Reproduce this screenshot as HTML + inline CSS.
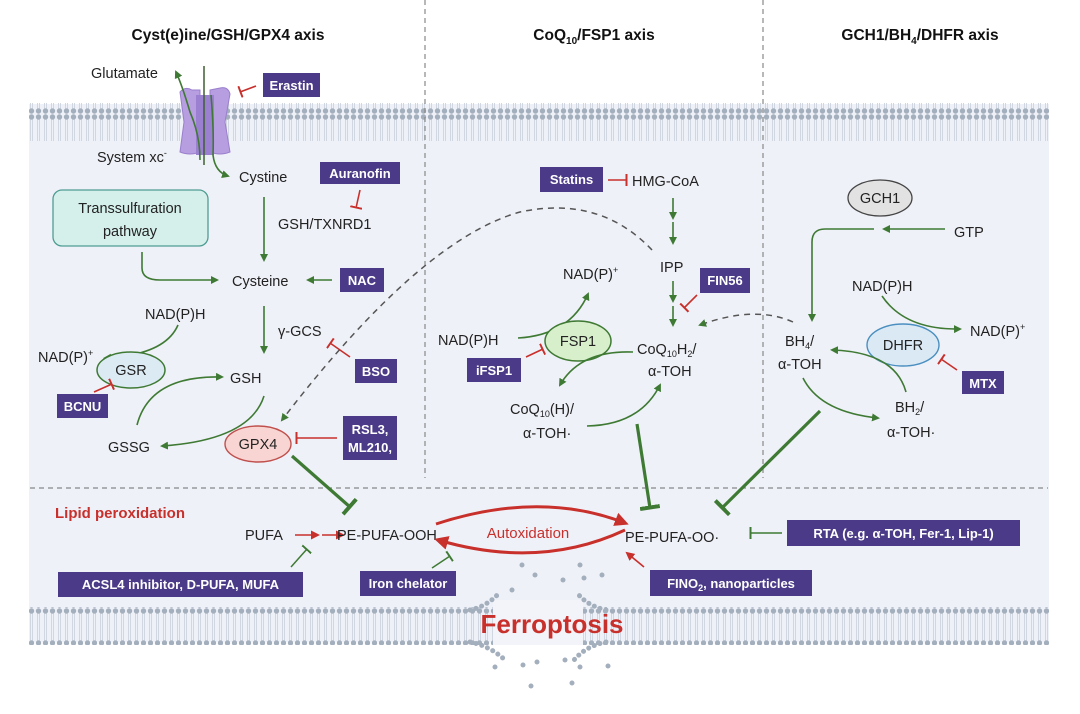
<!DOCTYPE html>
<html><head><meta charset="utf-8"><style>
html,body{margin:0;padding:0;background:#fff}
svg{display:block}
text{font-family:"Liberation Sans",sans-serif}
.t{font-size:14.5px;fill:#222}
.b{font-size:13px;fill:#fff;font-weight:bold}
.h{font-size:15.5px;font-weight:bold;fill:#111}
</style></head><body>
<svg width="1080" height="714" viewBox="0 0 1080 714" xmlns="http://www.w3.org/2000/svg">
<defs>
<pattern id="mem" x="0" y="0" width="7" height="38" patternUnits="userSpaceOnUse">
<line x1="2.5" y1="3" x2="2.5" y2="35" stroke="#d0d7e0" stroke-width="1"/>
<line x1="4.5" y1="3" x2="4.5" y2="35" stroke="#d0d7e0" stroke-width="1"/>
<circle cx="3.5" cy="3" r="2.7" fill="#a4afbd"/>
<circle cx="3.5" cy="35" r="2.7" fill="#a4afbd"/>
</pattern>
<marker id="ag" markerWidth="8" markerHeight="8" refX="6" refY="4" orient="auto" markerUnits="userSpaceOnUse"><path d="M0,0 L8,4 L0,8 z" fill="#3f7a34"/></marker>
<marker id="ar" markerWidth="9" markerHeight="9" refX="7" refY="4.5" orient="auto" markerUnits="userSpaceOnUse"><path d="M0,0 L9,4.5 L0,9 z" fill="#c8302c"/></marker>
<marker id="arb" markerWidth="14" markerHeight="14" refX="10" refY="7" orient="auto" markerUnits="userSpaceOnUse"><path d="M0,0 L14,7 L0,14 z" fill="#c8302c"/></marker>
<marker id="tgs" markerWidth="3" markerHeight="12" refX="1.5" refY="6" orient="auto" markerUnits="userSpaceOnUse"><rect x="0" y="0" width="2" height="12" fill="#3f7a34"/></marker>
<marker id="tr" markerWidth="3" markerHeight="12" refX="1.5" refY="6" orient="auto" markerUnits="userSpaceOnUse"><rect x="0" y="0" width="2" height="12" fill="#c8302c"/></marker>
<marker id="tgb" markerWidth="5" markerHeight="20" refX="2.5" refY="10" orient="auto" markerUnits="userSpaceOnUse"><rect x="0" y="0" width="4" height="20" fill="#3f7a34"/></marker>
</defs>

<rect x="29" y="104" width="1020" height="538" fill="#eff1f8"/>
<rect x="29" y="103" width="1020" height="38" fill="url(#mem)"/>
<rect x="29" y="607" width="1020" height="38" fill="url(#mem)"/>
<!-- ferroptosis gap -->
<rect x="493" y="600" width="90" height="50" fill="#f3f4f9"/>
<rect x="470" y="645" width="140" height="50" fill="#ffffff"/>
<g fill="none" stroke="#a4afbd" stroke-width="5" stroke-dasharray="0.1,6" stroke-linecap="round">
<path d="M470,610 Q488,606 500,592"/>
<path d="M606,610 Q588,606 578,594"/>
<path d="M470,642 Q490,646 505,660"/>
<path d="M606,642 Q586,646 574,660"/>
</g>
<g fill="#a4afbd">
<circle cx="512" cy="590" r="2.5"/><circle cx="535" cy="575" r="2.5"/><circle cx="563" cy="580" r="2.5"/><circle cx="584" cy="578" r="2.5"/><circle cx="602" cy="575" r="2.5"/><circle cx="522" cy="565" r="2.5"/><circle cx="580" cy="565" r="2.5"/>
<circle cx="495" cy="667" r="2.5"/><circle cx="523" cy="665" r="2.5"/><circle cx="537" cy="662" r="2.5"/><circle cx="565" cy="660" r="2.5"/><circle cx="580" cy="667" r="2.5"/><circle cx="608" cy="666" r="2.5"/><circle cx="531" cy="686" r="2.5"/><circle cx="572" cy="683" r="2.5"/>
</g>

<g stroke="#888" stroke-width="1.2" stroke-dasharray="5,4" fill="none">
<line x1="425" y1="0" x2="425" y2="478"/>
<line x1="763" y1="0" x2="763" y2="478"/>
<line x1="30" y1="488" x2="1048" y2="488"/>
</g>

<text class="h" x="228" y="40" text-anchor="middle">Cyst(e)ine/GSH/GPX4 axis</text>
<text class="h" x="594" y="40" text-anchor="middle">CoQ<tspan font-size="10" dy="4">10</tspan><tspan dy="-4">/FSP1 axis</tspan></text>
<text class="h" x="920" y="40" text-anchor="middle">GCH1/BH<tspan font-size="10" dy="4">4</tspan><tspan dy="-4">/DHFR axis</tspan></text>

<path d="M180,92 Q185,86 192,90 L200,90 L200,152 Q190,156 180,152 L184,122 z" fill="#b79ee0" stroke="#9a7fcc"/>
<path d="M210,90 L220,88 Q228,86 230,94 L225,122 L230,152 Q220,156 210,152 z" fill="#b79ee0" stroke="#9a7fcc"/>
<rect x="196" y="95" width="18" height="60" fill="#9b7fd0"/>
<line x1="204" y1="66" x2="204" y2="165" stroke="#3f5f33" stroke-width="1.5"/>
<path d="M200,160 Q200,135 190,112 Q182,85 176,72" stroke="#3f7a34" stroke-width="1.6" fill="none" marker-end="url(#ag)"/>
<path d="M211,95 Q214,130 213,155 Q215,172 228,176" stroke="#3f7a34" stroke-width="1.6" fill="none" marker-end="url(#ag)"/>
<text class="t" x="91" y="78">Glutamate</text>
<text class="t" x="97" y="162">System xc<tspan font-size="9" dy="-6">-</tspan></text>
<path d="M256,86 L240,92" stroke="#c8302c" stroke-width="1.6" marker-end="url(#tr)"/>
<rect x="263" y="73" width="57" height="24" fill="#4b3a87"/><text class="b" x="291.5" y="90" text-anchor="middle">Erastin</text>

<text class="t" x="239" y="182">Cystine</text>
<rect x="320" y="162" width="80" height="22" fill="#4b3a87"/><text class="b" x="360" y="178" text-anchor="middle">Auranofin</text>
<path d="M360,190 L356,208" stroke="#c8302c" stroke-width="1.6" marker-end="url(#tr)"/>
<text class="t" x="278" y="229">GSH/TXNRD1</text>
<line x1="264" y1="197" x2="264" y2="260" stroke="#3f7a34" stroke-width="1.6" marker-end="url(#ag)"/>
<rect x="53" y="190" width="155" height="56" rx="9" fill="#d5efeb" stroke="#4f9d93" stroke-width="1.3"/>
<text class="t" x="130" y="213" text-anchor="middle">Transsulfuration</text>
<text class="t" x="130" y="236" text-anchor="middle">pathway</text>
<path d="M142,252 L142,268 Q142,280 160,280 L217,280" stroke="#3f7a34" stroke-width="1.6" fill="none" marker-end="url(#ag)"/>
<text class="t" x="232" y="286">Cysteine</text>
<line x1="332" y1="280" x2="308" y2="280" stroke="#3f7a34" stroke-width="1.6" marker-end="url(#ag)"/>
<rect x="340" y="268" width="44" height="24" fill="#4b3a87"/><text class="b" x="362" y="285" text-anchor="middle">NAC</text>
<line x1="264" y1="306" x2="264" y2="352" stroke="#3f7a34" stroke-width="1.6" marker-end="url(#ag)"/>
<text class="t" x="145" y="319">NAD(P)H</text>
<text class="t" x="278" y="336">γ-GCS</text>
<path d="M350,357 L330,343" stroke="#c8302c" stroke-width="1.6" marker-end="url(#tr)"/>
<rect x="355" y="359" width="42" height="24" fill="#4b3a87"/><text class="b" x="376" y="376" text-anchor="middle">BSO</text>
<text class="t" x="38" y="362">NAD(P)<tspan font-size="9" dy="-6">+</tspan></text>
<path d="M178,325 Q165,355 105,358" stroke="#3f7a34" stroke-width="1.6" fill="none" marker-end="url(#ag)"/>
<ellipse cx="131" cy="370" rx="34" ry="18" fill="#dceaf4" stroke="#3f7a34" stroke-width="1.5"/>
<text class="t" x="131" y="375" text-anchor="middle">GSR</text>
<path d="M137,425 Q150,375 222,377" stroke="#3f7a34" stroke-width="1.6" fill="none" marker-end="url(#ag)"/>
<text class="t" x="230" y="383">GSH</text>
<path d="M94,392 L112,384" stroke="#c8302c" stroke-width="1.6" marker-end="url(#tr)"/>
<rect x="57" y="394" width="51" height="24" fill="#4b3a87"/><text class="b" x="82.5" y="411" text-anchor="middle">BCNU</text>
<text class="t" x="108" y="452">GSSG</text>
<path d="M264,396 Q250,440 162,446" stroke="#3f7a34" stroke-width="1.6" fill="none" marker-end="url(#ag)"/>
<ellipse cx="258" cy="444" rx="33" ry="18" fill="#f8d5d2" stroke="#c0504d" stroke-width="1.4"/>
<text class="t" x="258" y="449" text-anchor="middle">GPX4</text>
<line x1="337" y1="438" x2="296" y2="438" stroke="#c8302c" stroke-width="1.6" marker-end="url(#tr)"/>
<rect x="343" y="416" width="54" height="44" fill="#4b3a87"/><text class="b" x="370" y="434" text-anchor="middle">RSL3,</text><text class="b" x="370" y="452" text-anchor="middle">ML210,</text>
<line x1="292" y1="456" x2="350" y2="507" stroke="#3f7a34" stroke-width="3.2" marker-end="url(#tgb)"/>

<path d="M652,250 Q600,195 520,212 Q420,240 282,420" stroke="#555" stroke-width="1.5" stroke-dasharray="6,5" fill="none" marker-end="url(#ag)"/>

<rect x="540" y="167" width="63" height="25" fill="#4b3a87"/><text class="b" x="571.5" y="184" text-anchor="middle">Statins</text>
<line x1="608" y1="180" x2="627" y2="180" stroke="#c8302c" stroke-width="1.6" marker-end="url(#tr)"/>
<text class="t" x="632" y="186">HMG-CoA</text>
<line x1="673" y1="198" x2="673" y2="218" stroke="#3f7a34" stroke-width="1.6" marker-end="url(#ag)"/>
<line x1="673" y1="222" x2="673" y2="243" stroke="#3f7a34" stroke-width="1.6" marker-end="url(#ag)"/>
<text class="t" x="660" y="272">IPP</text>
<rect x="700" y="268" width="50" height="25" fill="#4b3a87"/><text class="b" x="725" y="285" text-anchor="middle">FIN56</text>
<line x1="673" y1="281" x2="673" y2="301" stroke="#3f7a34" stroke-width="1.6" marker-end="url(#ag)"/>
<line x1="673" y1="306" x2="673" y2="325" stroke="#3f7a34" stroke-width="1.6" marker-end="url(#ag)"/>
<path d="M697,295 L684,308" stroke="#c8302c" stroke-width="1.6" marker-end="url(#tr)"/>
<text class="t" x="563" y="279">NAD(P)<tspan font-size="9" dy="-6">+</tspan></text>
<text class="t" x="438" y="345">NAD(P)H</text>
<path d="M518,338 Q570,335 588,294" stroke="#3f7a34" stroke-width="1.6" fill="none" marker-end="url(#ag)"/>
<ellipse cx="578" cy="341" rx="33" ry="20" fill="#d8efcb" stroke="#3f7a34" stroke-width="1.5"/>
<text class="t" x="578" y="346" text-anchor="middle">FSP1</text>
<path d="M633,352 Q580,350 560,385" stroke="#3f7a34" stroke-width="1.6" fill="none" marker-end="url(#ag)"/>
<path d="M526,357 L543,349" stroke="#c8302c" stroke-width="1.6" marker-end="url(#tr)"/>
<rect x="467" y="358" width="54" height="24" fill="#4b3a87"/><text class="b" x="494" y="375" text-anchor="middle">iFSP1</text>
<text class="t" x="637" y="354">CoQ<tspan font-size="9" dy="3">10</tspan><tspan dy="-3">H</tspan><tspan font-size="9" dy="3">2</tspan><tspan dy="-3">/</tspan></text>
<text class="t" x="648" y="376">α-TOH</text>
<text class="t" x="510" y="414">CoQ<tspan font-size="9" dy="3">10</tspan><tspan dy="-3">(H)/</tspan></text>
<text class="t" x="523" y="438">α-TOH·</text>
<path d="M587,426 Q640,425 660,385" stroke="#3f7a34" stroke-width="1.6" fill="none" marker-end="url(#ag)"/>
<line x1="637" y1="424" x2="650" y2="508" stroke="#3f7a34" stroke-width="3.2" marker-end="url(#tgb)"/>
<path d="M793,322 Q755,305 700,325" stroke="#555" stroke-width="1.5" stroke-dasharray="6,5" fill="none" marker-end="url(#ag)"/>

<ellipse cx="880" cy="198" rx="32" ry="18" fill="#e2e2e2" stroke="#444" stroke-width="1.3"/>
<text class="t" x="880" y="203" text-anchor="middle">GCH1</text>
<text class="t" x="954" y="237">GTP</text>
<line x1="945" y1="229" x2="884" y2="229" stroke="#3f7a34" stroke-width="1.6" marker-end="url(#ag)"/>
<path d="M874,229 L825,229 Q812,229 812,242 L812,320" stroke="#3f7a34" stroke-width="1.6" fill="none" marker-end="url(#ag)"/>
<text class="t" x="852" y="291">NAD(P)H</text>
<text class="t" x="970" y="336">NAD(P)<tspan font-size="9" dy="-6">+</tspan></text>
<path d="M882,296 Q905,330 960,329" stroke="#3f7a34" stroke-width="1.6" fill="none" marker-end="url(#ag)"/>
<ellipse cx="903" cy="345" rx="36" ry="21" fill="#dbe9f5" stroke="#4a8fc0" stroke-width="1.4"/>
<text class="t" x="903" y="350" text-anchor="middle">DHFR</text>
<path d="M906,392 Q895,352 832,350" stroke="#3f7a34" stroke-width="1.6" fill="none" marker-end="url(#ag)"/>
<text class="t" x="785" y="346">BH<tspan font-size="9" dy="3">4</tspan><tspan dy="-3">/</tspan></text>
<text class="t" x="778" y="369">α-TOH</text>
<path d="M957,370 L941,359" stroke="#c8302c" stroke-width="1.6" marker-end="url(#tr)"/>
<rect x="962" y="371" width="42" height="23" fill="#4b3a87"/><text class="b" x="983" y="388" text-anchor="middle">MTX</text>
<path d="M803,378 Q820,412 878,418" stroke="#3f7a34" stroke-width="1.6" fill="none" marker-end="url(#ag)"/>
<text class="t" x="895" y="412">BH<tspan font-size="9" dy="3">2</tspan><tspan dy="-3">/</tspan></text>
<text class="t" x="887" y="437">α-TOH·</text>
<line x1="820" y1="411" x2="722" y2="508" stroke="#3f7a34" stroke-width="3.2" marker-end="url(#tgb)"/>

<text x="55" y="518" font-size="15" font-weight="bold" fill="#c8302c">Lipid peroxidation</text>
<text class="t" x="245" y="540">PUFA</text>
<line x1="295" y1="535" x2="318" y2="535" stroke="#c8302c" stroke-width="1.6" marker-end="url(#ar)"/>
<line x1="322" y1="535" x2="343" y2="535" stroke="#c8302c" stroke-width="1.6" marker-end="url(#ar)"/>
<text class="t" x="337" y="540">PE-PUFA-OOH</text>
<path d="M291,567 L307,549" stroke="#3f7a34" stroke-width="1.5" marker-end="url(#tgs)"/>
<rect x="58" y="572" width="245" height="25" fill="#4b3a87"/><text class="b" x="180.5" y="589" text-anchor="middle">ACSL4 inhibitor, D-PUFA, MUFA</text>
<path d="M436,524 Q540,490 625,523" stroke="#c8302c" stroke-width="3" fill="none" marker-end="url(#arb)"/>
<path d="M625,530 Q540,570 438,540" stroke="#c8302c" stroke-width="3" fill="none" marker-end="url(#arb)"/>
<text x="528" y="538" font-size="15" fill="#c8302c" text-anchor="middle">Autoxidation</text>
<text class="t" x="625" y="542">PE-PUFA-OO·</text>
<line x1="782" y1="533" x2="750" y2="533" stroke="#3f7a34" stroke-width="1.6" marker-end="url(#tgs)"/>
<rect x="787" y="520" width="233" height="26" fill="#4b3a87"/><text class="b" x="903.5" y="538" text-anchor="middle">RTA (e.g. α-TOH, Fer-1, Lip-1)</text>
<path d="M432,568 L450,556" stroke="#3f7a34" stroke-width="1.5" marker-end="url(#tgs)"/>
<rect x="360" y="571" width="96" height="25" fill="#4b3a87"/><text class="b" x="408" y="588" text-anchor="middle">Iron chelator</text>
<line x1="644" y1="567" x2="627" y2="553" stroke="#c8302c" stroke-width="1.6" marker-end="url(#ar)"/>
<rect x="650" y="570" width="162" height="26" fill="#4b3a87"/><text class="b" x="731" y="588" text-anchor="middle">FINO<tspan font-size="9" dy="3">2</tspan><tspan dy="-3">, nanoparticles</tspan></text>

<text x="552" y="633" font-size="26" font-weight="bold" fill="#c8302c" text-anchor="middle">Ferroptosis</text>
</svg>
</body></html>
